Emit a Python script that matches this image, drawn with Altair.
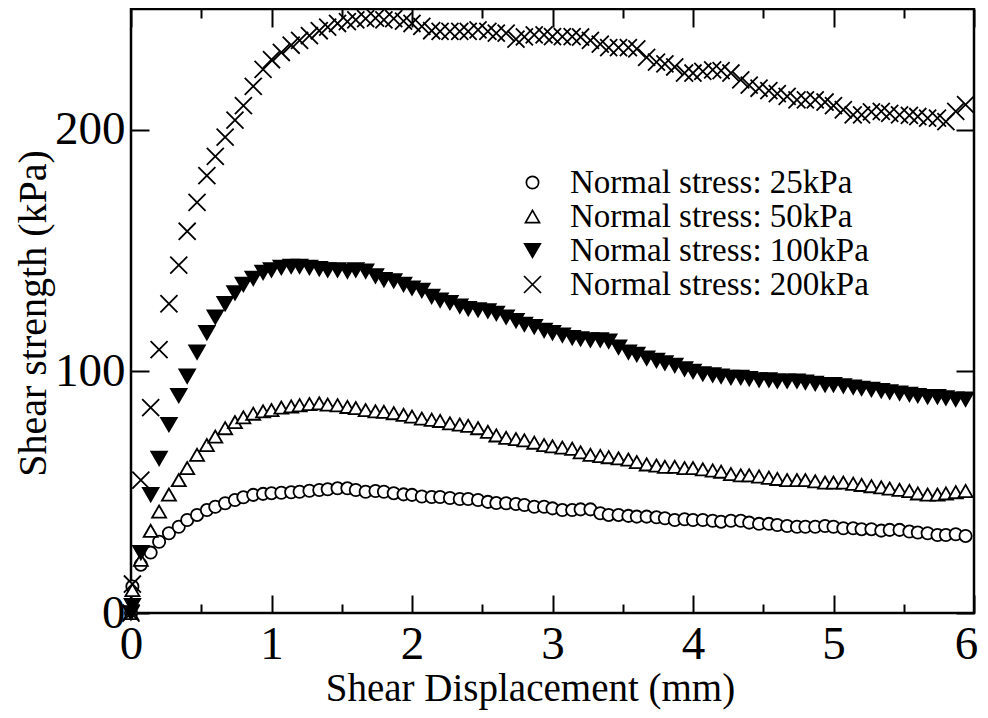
import altair as alt
import pandas as pd

SERIES = ["Normal stress: 25kPa", "Normal stress: 50kPa",
          "Normal stress: 100kPa", "Normal stress: 200kPa"]

# shear displacement (mm) of each reading
DISP = [0.0, 0.01,
        0.07, 0.14, 0.20, 0.27, 0.34, 0.40, 0.47, 0.54, 0.60, 0.67, 0.74, 0.80, 0.87, 0.94, 1.00,
        1.07, 1.14, 1.20, 1.27, 1.34, 1.40, 1.47, 1.54, 1.60, 1.67, 1.74, 1.80, 1.87, 1.94, 2.00,
        2.07, 2.14, 2.20, 2.27, 2.34, 2.40, 2.47, 2.54, 2.60, 2.67, 2.74, 2.80, 2.87, 2.94, 3.00,
        3.07, 3.14, 3.20, 3.27, 3.34, 3.40, 3.47, 3.54, 3.60, 3.67, 3.74, 3.80, 3.87, 3.94, 4.00,
        4.07, 4.14, 4.20, 4.27, 4.34, 4.40, 4.47, 4.54, 4.60, 4.67, 4.74, 4.80, 4.87, 4.94, 5.00,
        5.07, 5.14, 5.20, 5.27, 5.34, 5.40, 5.47, 5.54, 5.60, 5.67, 5.74, 5.80, 5.87, 5.94]

TAU_25 = [0, 11,
          20, 25, 29.5, 33, 35.7, 38.5, 40.6, 42.6, 44, 45.4, 46.8, 47.9, 48.9, 49.3, 49.6,
          49.8, 50, 50.2, 50.6, 50.9, 51.2, 51.6, 51.6, 50.9, 50.2, 50.5, 50.2, 49.6, 49.1, 48.9,
          48.2, 48, 48, 47.6, 47.2, 47.2, 46.8, 46, 45.5, 45.4, 45.1, 44.7, 44, 44, 43.3,
          42.6, 42.6, 42.9, 42.9, 41.3, 40.6, 40.6, 40.2, 39.9, 39.9, 39.6, 39.2, 38.5, 38.8, 38.5,
          38.5, 38.2, 37.8, 38.2, 38.2, 37.4, 36.9, 36.9, 36.4, 36, 35.7, 35.7, 35.7, 36, 35.7,
          35.1, 35.1, 34.7, 34.7, 34.1, 34.4, 34.4, 33.7, 33.3, 33, 32.3, 32.3, 32.6, 31.9]

TAU_50 = [0, 9.5,
          22, 34, 42, 49, 55, 60, 65.5, 69.5, 73, 76.5, 79, 81, 82.5, 83.5, 84,
          85, 85.5, 86, 86.5, 86.8, 86.3, 86, 85.3, 84.8, 84, 83.5, 83.3, 82.7, 82, 81.3,
          80.5, 80, 79.5, 78.5, 78, 77.5, 76.5, 75, 73.5, 72.5, 72, 71.5, 70.5, 69.5, 69,
          68.5, 68, 66.5, 65.5, 65, 64.5, 64, 63.5, 62.5, 61.5, 61, 60.5, 60.5, 60, 60,
          59.5, 59, 58.5, 57.5, 57, 57, 56.5, 56, 55.5, 55, 55, 55, 54.5, 54, 54,
          54, 53.5, 53, 52.5, 52, 51.5, 51, 50.5, 49.5, 49, 49, 49.5, 50, 50.5]

TAU_100 = [0, 3,
           25, 49, 64, 78, 90, 98, 108, 116, 122.5, 128, 132.5, 136, 138.5, 141, 142,
           143, 143.5, 143.5, 143, 142.5, 142, 142, 141.5, 142, 141.5, 139.5, 138, 137.5, 136, 134.5,
           133.5, 131, 129.5, 128.5, 127, 126, 125.5, 125, 124, 122.5, 121, 119.5, 118.5, 117, 116,
           115, 114, 113.5, 113, 113, 112.5, 110, 108, 107, 105.5, 104.5, 103.5, 102.5, 101, 100,
           99, 98.5, 98, 97.5, 97.5, 97, 96.5, 96.5, 96, 96, 96, 95.5, 95, 94.5, 94.5,
           94, 93.5, 93, 92.5, 92, 91.5, 91, 90.5, 90, 89.5, 89.5, 89, 88.5, 88.5]

TAU_200 = [0, 12,
           55, 85, 109, 128, 144, 158, 170, 181, 189, 197, 204, 210, 218, 225, 229,
           232, 235, 237, 239, 241, 242.5, 244, 244.8, 245.5, 246, 246.2, 245.5, 246, 245, 244,
           242.8, 241, 240.7, 240.7, 240.7, 240.7, 241.4, 240.7, 240, 240, 237.5, 238.5, 239.3, 239.3, 238.6,
           238.6, 238.6, 238.4, 237, 235.5, 234, 234, 234, 233.5, 230, 228, 227.3, 226, 223.5, 223.5,
           224.2, 224.8, 224.5, 223.5, 220.7, 218.5, 217.2, 216.2, 215, 213.8, 212.4, 212.4, 212.4, 211.5, 210,
           208.3, 206.2, 206.2, 207.4, 207.6, 206.8, 206.2, 206, 205.5, 204.8, 204.8, 203.4, 207.6, 210.4]

X_LABELS = [0, 1, 2, 3, 4, 5, 6]
X_TICKS = [0, 0.5, 1, 1.5, 2, 2.5, 3, 3.5, 4, 4.5, 5, 5.5, 6]
Y_LABELS = [0, 100, 200]

rows = []
for name, vals in zip(SERIES, [TAU_25, TAU_50, TAU_100, TAU_200]):
    for d, t in zip(DISP, vals):
        rows.append({"series": name, "disp": d, "tau": t})
df = pd.DataFrame(rows)

FONT = "Liberation Serif"
W, H = 843, 604

xscale = alt.Scale(domain=[0, 6], nice=False, zero=False)
yscale = alt.Scale(domain=[0, 250], nice=False, zero=False)

leg = alt.Legend(title=None, orient="none", legendX=385, legendY=157,
                 labelFont=FONT, labelFontSize=33, labelColor="black",
                 labelLimit=600, labelOffset=21, rowPadding=0, padding=0,
                 symbolStrokeWidth=1.7)

shape_range = ["circle", "triangle-up", "triangle-down", "M-1,-1L1,1M-1,1L1,-1"]

points = alt.Chart(df).mark_point(filled=True, strokeWidth=1.8, opacity=1).encode(
    x=alt.X("disp:Q", scale=xscale,
            axis=alt.Axis(orient="bottom", values=X_LABELS, ticks=False, tickSize=0, domain=False,
                          grid=False, labelFont=FONT, labelFontSize=47, labelColor="black",
                          labelPadding=8, labelFlush=False, labelOverlap=False, format="d",
                          labelOffset={"condition": {"test": "datum.value === 6", "value": -8}, "value": 0},
                          title="Shear Displacement (mm)", titleFont=FONT, titleFontSize=39,
                          titleFontWeight="normal", titleColor="black", titleX=399, titleY=87,
                          titleBaseline="alphabetic", titleAlign="center")),
    y=alt.Y("tau:Q", scale=yscale,
            axis=alt.Axis(orient="left", values=Y_LABELS, ticks=False, tickSize=0, domain=False,
                          grid=False, labelFont=FONT, labelFontSize=47, labelColor="black",
                          labelPadding=6, labelFlush=False, labelOverlap=False, format="d",
                          title="Shear strength (kPa)", titleFont=FONT, titleFontSize=40,
                          titleFontWeight="normal", titleColor="black", titleX=-86, titleY=304,
                          titleBaseline="alphabetic", titleAlign="center", titleAngle=270)),
    shape=alt.Shape("series:N", scale=alt.Scale(domain=SERIES, range=shape_range), legend=leg),
    fill=alt.Fill("series:N", scale=alt.Scale(domain=SERIES, range=["white", "white", "black", "white"]), legend=leg),
    stroke=alt.Stroke("series:N", scale=alt.Scale(domain=SERIES, range=["black", "black", "black", "black"]), legend=leg),
    size=alt.Size("series:N", scale=alt.Scale(domain=SERIES, range=[150, 290, 400, 380]), legend=leg),
)

tick_size = {"condition": {"test": "datum.value % 1 === 0", "value": 18}, "value": 9}

def tick_axes(x_orient, y_orient):
    return alt.Chart(df).mark_point(opacity=0).encode(
        x=alt.X("disp:Q", scale=xscale,
                axis=alt.Axis(orient=x_orient, offset=-H, values=X_TICKS, labels=False, domain=False,
                              grid=False, ticks=True, tickSize=tick_size, tickWidth=2,
                              tickColor="black", title=None)),
        y=alt.Y("tau:Q", scale=yscale,
                axis=alt.Axis(orient=y_orient, offset=-W, values=Y_LABELS, labels=False, domain=False,
                              grid=False, ticks=True, tickSize=18, tickWidth=2,
                              tickColor="black", title=None)),
    )

chart = alt.layer(points, tick_axes("top", "right"), tick_axes("bottom", "left")).resolve_axis(
    x="independent", y="independent"
).properties(
    width=W, height=H,
    autosize=alt.AutoSizeParams(type="none"),
    padding={"left": 123, "top": 1, "right": 6, "bottom": 97},
).configure(background="white", font=FONT).configure_view(stroke="black", strokeWidth=2.5)

chart.save("out.html", embed_options={"renderer": "svg", "actions": False})
